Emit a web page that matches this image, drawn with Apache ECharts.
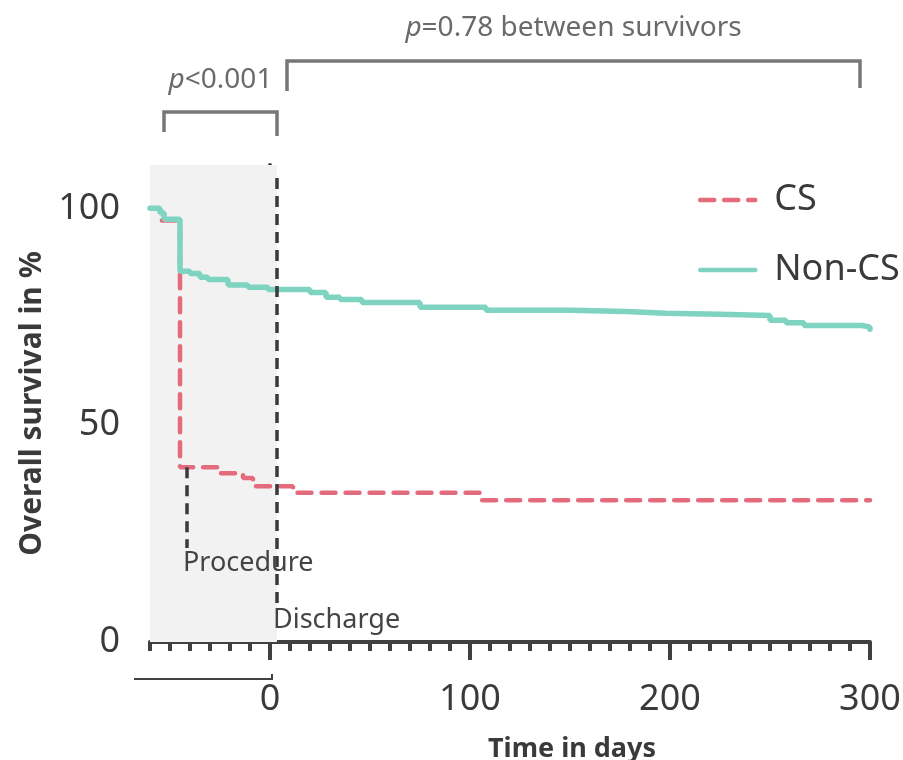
<!DOCTYPE html>
<html><head><meta charset="utf-8">
<script src="https://cdn.jsdelivr.net/npm/echarts@6/dist/echarts.min.js"></script>
<style>html,body{margin:0;padding:0;background:#fff}#c{width:903px;height:760px}</style>
</head><body><div id="c"></div>
<script>
// ---- data ----
const seriesNames = ['CS', 'Non-CS'];
const csDays = [-60, -55, -45, -26, -13.5, -8.5, 11.5, 105.5, 300];
const csSurv = [100, 97.2, 40.3, 38.9, 37.8, 35.9, 34.4, 32.7, 32.7];
const nonCsDays = [-60, -55, -53, -45, -40, -35, -31, -21, -11, -1, 20, 28, 35, 46, 75, 108, 150, 178, 198, 225, 250, 258, 267, 296, 300];
const nonCsSurv = [100, 99, 97.5, 85.5, 85, 84.1, 83.6, 82.3, 81.8, 81.3, 80.6, 79.5, 79, 78.3, 77.2, 76.5, 76.2, 75.8, 75.6, 75.3, 74.2, 73.6, 73, 72.6, 72.1];
const xTickLabels = [0, 100, 200, 300];
const yTickLabels = [0, 50, 100];
const yMinorTicks = [25, 75];
const inHospital = [-60, 3.5];          // shaded period
const procedureDay = -41.5;
const dischargeDay = 3.5;
const pShort = [-53, 3.5];              // bracket p<0.001
const pLong = [8.5, 295];               // bracket p=0.78
const hospitalBar = [-68, 1];           // bar under axis

const FONT = '"Noto Sans", "DejaVu Sans", sans-serif';
const AX = '#404040';
const RED = '#e36b7c';
const TEAL = '#7ed3c1';

const zip = (a, b) => a.map((v, i) => [v, b[i]]);

const option = {
  animation: false,
  backgroundColor: '#fff',
  textStyle: { fontFamily: FONT },
  grid: { left: 150, right: 33, top: 165, bottom: 118, containLabel: false, outerBoundsMode: 'none' },
  legend: {
    orient: 'vertical', left: 693, top: 177, itemWidth: 55, itemHeight: 14, itemGap: 34,
    itemStyle: { opacity: 0 },
    lineStyle: { width: 4.5, cap: 'round' },
    textStyle: { fontSize: 36, color: '#3a3a3a', fontFamily: FONT, padding: [0, 0, 0, 14] },
    data: seriesNames
  },
  xAxis: [
    { type: 'value', min: -60, max: 300, interval: 10, position: 'bottom',
      axisLine: { lineStyle: { color: AX, width: 4 } },
      axisTick: { length: 9, lineStyle: { color: AX, width: 4 } },
      axisLabel: { show: false }, splitLine: { show: false },
      name: 'Time in days', nameLocation: 'middle', nameGap: 94,
      nameTextStyle: { fontSize: 27, fontWeight: 'bold', color: '#3a3a3a', fontFamily: FONT, padding: [0, 0, 0, 124] } },
    { type: 'value', min: -60, max: 300, position: 'bottom',
      axisLine: { show: false },
      axisTick: { show: true, customValues: xTickLabels, length: 18, lineStyle: { color: AX, width: 4 } },
      axisLabel: { customValues: xTickLabels, fontSize: 36, color: '#3a3a3a', margin: 40, fontFamily: FONT },
      splitLine: { show: false } }
  ],
  yAxis: [
    { type: 'value', min: 0, max: 110, position: 'left',
      axisLine: { show: true, lineStyle: { color: AX, width: 4 } },
      axisTick: { show: true, customValues: yTickLabels, length: 20, lineStyle: { color: AX, width: 4 } },
      axisLabel: { customValues: yTickLabels, fontSize: 36, color: '#3a3a3a', margin: 30, fontFamily: FONT },
      splitLine: { show: false },
      name: 'Overall survival in %', nameLocation: 'middle', nameGap: 100, nameRotate: 90,
      nameTextStyle: { fontSize: 30, fontWeight: 'bold', color: '#3a3a3a', fontFamily: FONT } },
    { type: 'value', min: 0, max: 110, position: 'left',
      axisLine: { show: false },
      axisTick: { show: true, customValues: yMinorTicks, length: 11, lineStyle: { color: AX, width: 4 } },
      axisLabel: { show: false }, splitLine: { show: false } }
  ],
  series: [
    { name: 'CS', type: 'line', step: 'end', symbol: 'none', z: 3,
      data: zip(csDays, csSurv),
      lineStyle: { color: RED, width: 4.5, type: [14, 10], cap: 'round' },
      itemStyle: { color: RED },
      markArea: { silent: true, itemStyle: { color: '#f2f2f2' },
        data: [[{ xAxis: inHospital[0] }, { xAxis: inHospital[1] }]] },
      markLine: { silent: true, symbol: 'none', label: { show: false },
        lineStyle: { color: '#3a3a3a', width: 3.5, type: [11, 7] },
        data: [
          [{ coord: [dischargeDay, 107] }, { coord: [dischargeDay, 8.5] }],
          [{ coord: [procedureDay, 40.3] }, { coord: [procedureDay, 21.7] }]
        ] } },
    { name: 'Non-CS', type: 'line', step: 'end', symbol: 'none', z: 4,
      data: zip(nonCsDays, nonCsSurv),
      lineStyle: { color: TEAL, width: 5.5, cap: 'round' },
      itemStyle: { color: TEAL } }
  ]
};

const chart = echarts.init(document.getElementById('c'), null, { renderer: 'canvas' });
chart.setOption(option);

const px = (d, v) => chart.convertToPixel({ gridIndex: 0 }, [d, v]);
const GREY = '#777';
const TG = '#6a6a6a';
const sx1 = px(pShort[0], 0)[0], sx2 = px(pShort[1], 0)[0];
const lx1 = px(pLong[0], 0)[0], lx2 = px(pLong[1], 0)[0];
const hb1 = px(hospitalBar[0], 0)[0], hb2 = px(hospitalBar[1], 0)[0];
const proc = px(procedureDay, 18.2);
const dis = px(dischargeDay, 5.1);

chart.setOption({
  graphic: [
    { type: 'polyline', z: 100, shape: { points: [[sx1, 132], [sx1, 112], [sx2, 112], [sx2, 136]] },
      style: { stroke: GREY, lineWidth: 3.5, fill: null } },
    { type: 'polyline', z: 100, shape: { points: [[lx1, 91], [lx1, 61], [lx2, 61], [lx2, 88]] },
      style: { stroke: GREY, lineWidth: 3.5, fill: null } },
    { type: 'text', z: 100, style: { x: (sx1 + sx2) / 2, y: 80, text: '{i|p}<0.001', align: 'center', verticalAlign: 'middle',
        font: '28px ' + FONT, fill: TG, rich: { i: { fontStyle: 'italic', fontSize: 28, fontFamily: FONT, fill: TG } } } },
    { type: 'text', z: 100, style: { x: (lx1 + lx2) / 2, y: 28, text: '{i|p}=0.78 between survivors', align: 'center', verticalAlign: 'middle',
        font: '28px ' + FONT, fill: TG, rich: { i: { fontStyle: 'italic', fontSize: 28, fontFamily: FONT, fill: TG } } } },
    { type: 'text', z: 100, style: { x: proc[0] - 4, y: proc[1], text: 'Procedure', align: 'left', verticalAlign: 'middle',
        font: '27px ' + FONT, fill: '#444' } },
    { type: 'text', z: 100, style: { x: dis[0] - 4, y: dis[1], text: 'Discharge', align: 'left', verticalAlign: 'middle',
        font: '27px ' + FONT, fill: '#444' } },
    { type: 'polyline', z: 100, shape: { points: [[hb1, 679], [hb2, 679], [hb2, 674]] },
      style: { stroke: AX, lineWidth: 2, fill: null } }
  ]
});
</script></body></html>
